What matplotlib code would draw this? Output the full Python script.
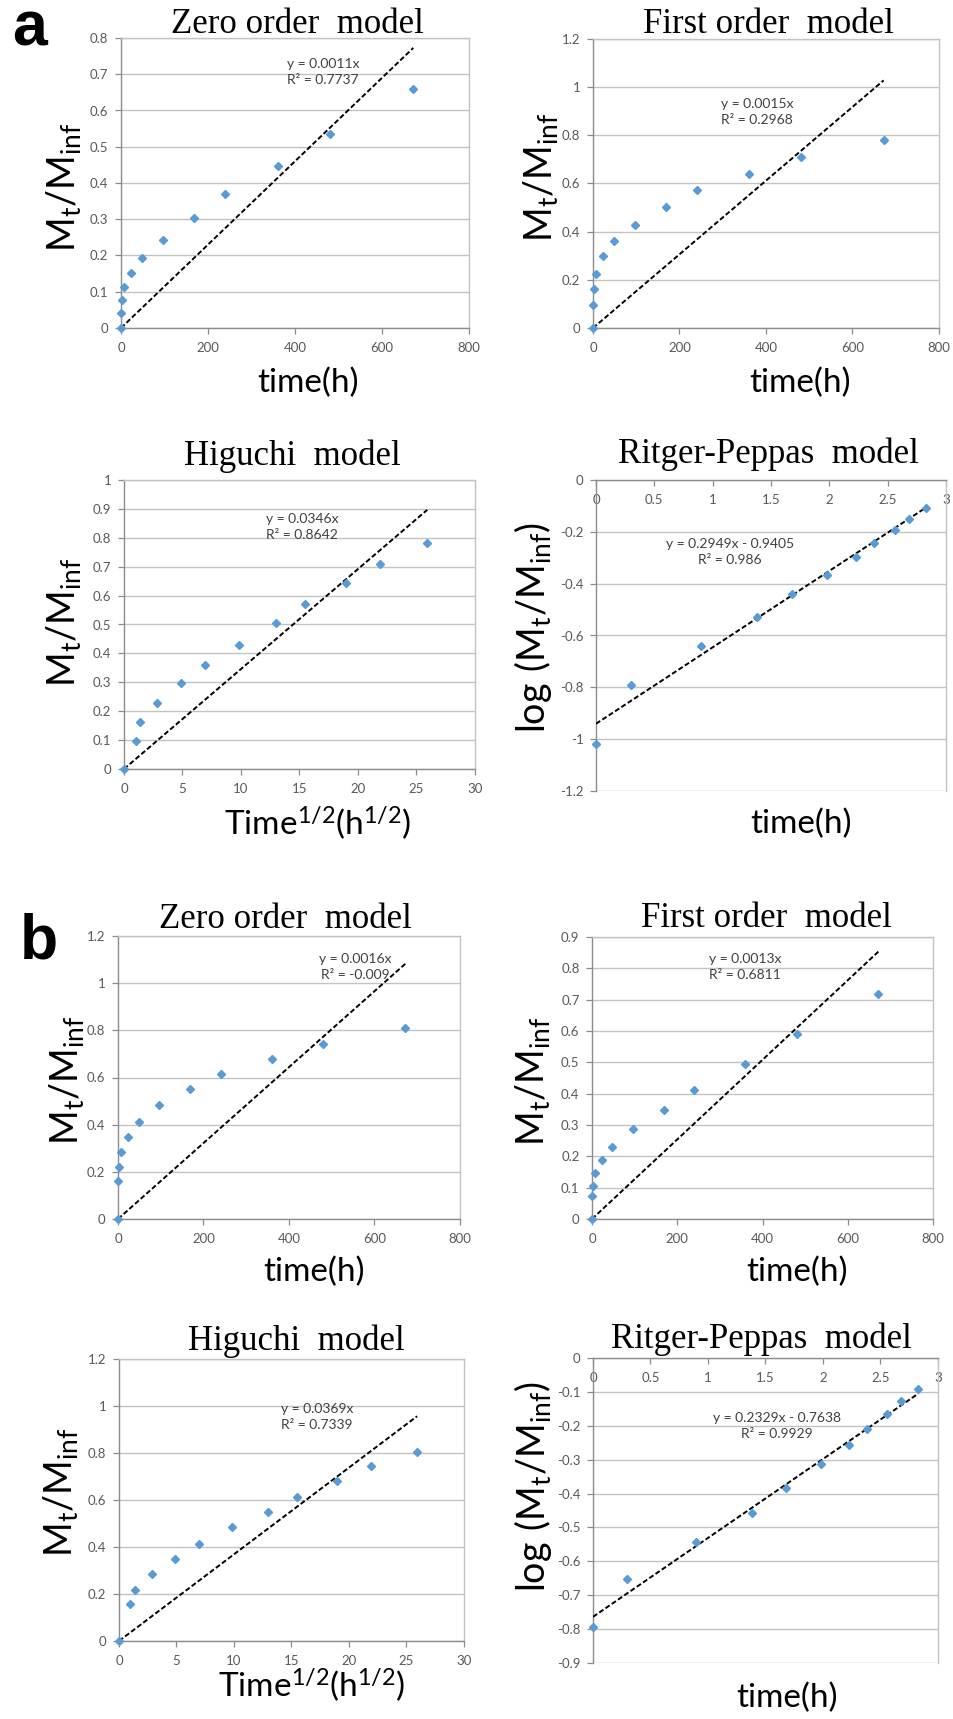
import matplotlib
matplotlib.use('Agg')
import matplotlib.pyplot as plt
import numpy as np
from matplotlib.ticker import FuncFormatter

plt.rcParams['font.family'] = ['Lato', 'DejaVu Sans']
plt.rcParams['axes.unicode_minus'] = False
plt.rcParams['mathtext.default'] = 'regular'

# ---------------- data ----------------
times_h = [0, 1, 2, 8, 24, 48, 96, 168, 240, 360, 480, 672]
sqrt_time = [0, 1.0, 1.41, 2.83, 4.9, 6.93, 9.8, 12.96, 15.49, 18.97, 21.91, 25.92]
log_time = [0, 0.30, 0.90, 1.38, 1.68, 1.98, 2.23, 2.38, 2.56, 2.68, 2.83]

a_zero_release = [0, 0.042, 0.076, 0.113, 0.153, 0.194, 0.243, 0.304, 0.369, 0.446, 0.535, 0.660]
a_first_release = [0, 0.096, 0.160, 0.226, 0.297, 0.362, 0.429, 0.502, 0.573, 0.641, 0.708, 0.782]
a_higuchi_release = [0, 0.096, 0.163, 0.227, 0.296, 0.360, 0.429, 0.504, 0.572, 0.644, 0.710, 0.782]
a_peppas_log = [-1.020, -0.791, -0.642, -0.529, -0.441, -0.368, -0.296, -0.242, -0.192, -0.149, -0.107]

b_zero_release = [0, 0.160, 0.220, 0.284, 0.349, 0.413, 0.483, 0.551, 0.616, 0.680, 0.743, 0.808]
b_first_release = [0, 0.073, 0.106, 0.146, 0.187, 0.231, 0.288, 0.349, 0.413, 0.496, 0.592, 0.717]
b_higuchi_release = [0, 0.159, 0.218, 0.284, 0.348, 0.411, 0.484, 0.550, 0.614, 0.679, 0.745, 0.806]
b_peppas_log = [-0.794, -0.653, -0.542, -0.457, -0.385, -0.313, -0.258, -0.210, -0.165, -0.128, -0.092]

# trend lines (slope, intercept) as drawn in the picture
trend_slopes = [0.00115, 0.00153, 0.0346, 0.2949, 0.00161, 0.00127, 0.0369, 0.2329]
trend_intercepts = [0, 0, 0, -0.9405, 0, 0, 0, -0.7638]

equations = ["y = 0.0011x\nR² = 0.7737", "y = 0.0015x\nR² = 0.2968",
             "y = 0.0346x\nR² = 0.8642", "y = 0.2949x - 0.9405\nR² = 0.986",
             "y = 0.0016x\nR² = -0.009", "y = 0.0013x\nR² = 0.6811",
             "y = 0.0369x\nR² = 0.7339", "y = 0.2329x - 0.7638\nR² = 0.9929"]

titles = ["Zero order  model", "First order  model", "Higuchi  model", "Ritger-Peppas  model"]
ylabel_release = r'$\mathregular{M_t/M_{inf}}$'
ylabel_log = r'$\mathregular{log\ (M_t/M_{inf})}$'
xlabel_time = 'time(h)'
xlabel_sqrt = r'$\mathregular{Time^{1/2}(h^{1/2})}$'

# ---------------- figure ----------------
W, H = 954, 1719
fig = plt.figure(figsize=(W / 100, H / 100), dpi=100)

def rect(l, t, r, b):
    return [l / W, 1 - b / H, (r - l) / W, (b - t) / H]

def fp(x, y):
    return (x / W, 1 - y / H)

BLUE = '#5B9BD5'
GRID = '#C3C3C3'
AXC = '#8C8C8C'
TXT = '#595959'

def _fmt(v, p):
    v = round(v, 6) + 0.0
    if abs(v) < 1e-9:
        v = 0.0
    return '%g' % v

fmt = FuncFormatter(_fmt)

panels = [
    dict(r=(121, 38, 469, 328), x=times_h, y=a_zero_release, xlim=(0, 800), xs=200, ylim=(0, 0.8), ys=0.1,
         t=0, tp=(297, 33), xl=xlabel_time, xlp=(308, 392), yl=ylabel_release, ylp=(64, 187), ep=(323, 72)),
    dict(r=(593, 39, 939, 328), x=times_h, y=a_first_release, xlim=(0, 800), xs=200, ylim=(0, 1.2), ys=0.2,
         t=1, tp=(768, 33), xl=xlabel_time, xlp=(800, 392), yl=ylabel_release, ylp=(541, 177), ep=(757, 112)),
    dict(r=(124, 480, 475, 769), x=sqrt_time, y=a_higuchi_release, xlim=(0, 30), xs=5, ylim=(0, 1.0), ys=0.1,
         t=2, tp=(292, 465), xl=xlabel_sqrt, xlp=(318, 835), yl=ylabel_release, ylp=(64, 622), ep=(302, 527)),
    dict(r=(596, 480, 946, 791), x=log_time, y=a_peppas_log, xlim=(0, 3), xs=0.5, ylim=(-1.2, 0), ys=0.2,
         t=3, tp=(768, 463), xl=xlabel_time, xlp=(801, 833), yl=ylabel_log, ylp=(533, 628), ep=(730, 552), pep=True),
    dict(r=(118, 936, 460, 1219), x=times_h, y=b_zero_release, xlim=(0, 800), xs=200, ylim=(0, 1.2), ys=0.2,
         t=0, tp=(285, 928), xl=xlabel_time, xlp=(314, 1281), yl=ylabel_release, ylp=(67, 1080), ep=(355, 967)),
    dict(r=(592, 937, 933, 1219), x=times_h, y=b_first_release, xlim=(0, 800), xs=200, ylim=(0, 0.9), ys=0.1,
         t=1, tp=(766, 927), xl=xlabel_time, xlp=(797, 1281), yl=ylabel_release, ylp=(533, 1081), ep=(745, 967)),
    dict(r=(119, 1359, 464, 1641), x=sqrt_time, y=b_higuchi_release, xlim=(0, 30), xs=5, ylim=(0, 1.2), ys=0.2,
         t=2, tp=(296, 1350), xl=xlabel_sqrt, xlp=(312, 1697), yl=ylabel_release, ylp=(61, 1492), ep=(317, 1417)),
    dict(r=(593, 1358, 938, 1663), x=log_time, y=b_peppas_log, xlim=(0, 3), xs=0.5, ylim=(-0.9, 0), ys=0.1,
         t=3, tp=(761, 1348), xl=xlabel_time, xlp=(787, 1707), yl=ylabel_log, ylp=(533, 1487), ep=(777, 1426), pep=True),
]

for i, p in enumerate(panels):
    ax = fig.add_axes(rect(*p['r']))
    ax.set_xlim(*p['xlim'])
    ax.set_ylim(*p['ylim'])
    ax.set_xticks(np.round(np.arange(p['xlim'][0], p['xlim'][1] + 1e-9, p['xs']), 6))
    ax.set_yticks(np.round(np.arange(p['ylim'][0], p['ylim'][1] + 1e-9, p['ys']), 6))
    ax.xaxis.set_major_formatter(fmt)
    ax.yaxis.set_major_formatter(fmt)
    ax.yaxis.grid(True, color=GRID, lw=1.0)
    ax.set_axisbelow(True)
    for s in ['top', 'right']:
        ax.spines[s].set_color(GRID)
        ax.spines[s].set_linewidth(1.0)
    for s in ['left', 'bottom']:
        ax.spines[s].set_color(AXC)
        ax.spines[s].set_linewidth(1.0)
    ax.tick_params(axis='both', direction='out', length=4, width=0.9, color=AXC,
                   labelcolor=TXT, labelsize=9.5)
    ax.tick_params(axis='x', pad=6)
    ax.tick_params(axis='y', pad=5)
    if p.get('pep'):
        ax.spines['bottom'].set_position(('data', 0))
        ax.spines['top'].set_visible(False)

    xs = np.array([0.0, p['x'][-1]])
    ax.plot(xs, trend_slopes[i] * xs + trend_intercepts[i], color='black', lw=1.4,
            ls=(0, (2.6, 1.3)), zorder=3)
    ax.plot(p['x'], p['y'], 'D', color=BLUE, mec=BLUE, ms=4.5, clip_on=False, zorder=4)

    fig.text(*fp(*p['tp']), titles[p['t']], ha='center', va='baseline', fontsize=25,
             family='Liberation Serif')
    ax.set_xlabel(p['xl'], fontsize=24)
    ax.xaxis.set_label_coords(*fp(*p['xlp']), transform=fig.transFigure)
    ax.xaxis.label.set_va('baseline')
    ax.set_ylabel(p['yl'], fontsize=27)
    ax.yaxis.set_label_coords(*fp(*p['ylp']), transform=fig.transFigure)
    ax.yaxis.label.set_va('center')
    fig.text(*fp(*p['ep']), equations[i], ha='center', va='center', multialignment='center',
             fontsize=10, color='#404040', linespacing=1.35)

fig.text(*fp(12, 45), 'a', fontsize=45, fontweight='bold', family='Liberation Sans',
         ha='left', va='baseline')
fig.text(*fp(20, 958), 'b', fontsize=45, fontweight='bold', family='Liberation Sans',
         ha='left', va='baseline')

fig.savefig('out.png', dpi=100)
